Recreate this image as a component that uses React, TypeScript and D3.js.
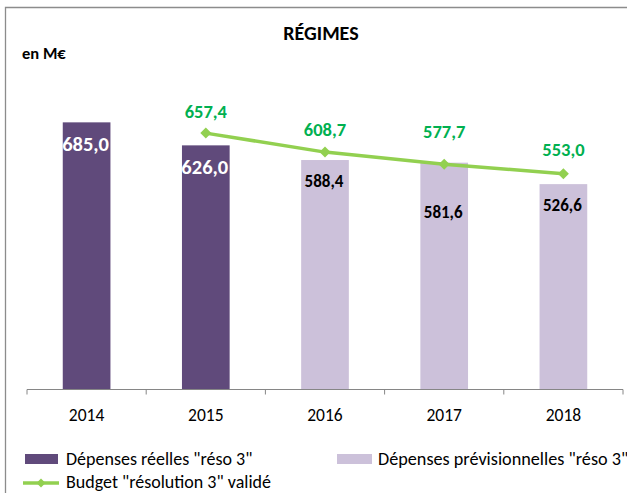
import React from "react";
import * as d3 from "d3";

const years = ["2014", "2015", "2016", "2017", "2018"];
const realSpend: (number | null)[] = [685.0, 626.0, null, null, null];
const forecastSpend: (number | null)[] = [null, null, 588.4, 581.6, 526.6];
const budget: (number | null)[] = [null, 657.4, 608.7, 577.7, 553.0];

const legendLabels = [
  'Dépenses réelles "réso 3"',
  'Dépenses prévisionnelles "réso 3"',
  'Budget "résolution 3" validé',
];

// label placement tweaks (px), like the manual placement in the source
const barLabelDy = [22, 22, 21, 50, 21];
const lineLabelDy = [0, -22, -23, -33, -24];

const W = 627;
const H = 493;
const FONT = "Carlito, Calibri, Lato, sans-serif";
const DARK = "#604A7B";
const LIGHT = "#CCC1DA";
const LINE = "#92D050";
const LABEL_GREEN = "#00B050";

const fmt = (v: number) => v.toFixed(1).replace(".", ",");

export default function App() {
  const x = d3.scaleBand<string>().domain(years).range([27, 623]).padding(0);
  const y = d3.scaleLinear().domain([0, 800]).range([389.5, 77.5]);
  const barW = x.bandwidth() * 0.4;
  const cx = (yr: string) => (x(yr) as number) + x.bandwidth() / 2;

  const budgetPts = years
    .map((yr, i) => ({ yr, v: budget[i], i }))
    .filter((d) => d.v != null) as { yr: string; v: number; i: number }[];

  const line = d3
    .line<{ yr: string; v: number }>()
    .x((d) => cx(d.yr))
    .y((d) => y(d.v));

  const diamond = (px: number, py: number, r: number) =>
    `M${px},${py - r}L${px + r},${py}L${px},${py + r}L${px - r},${py}Z`;

  const bars: { yr: string; v: number; color: string; labelColor: string; i: number }[] = [];
  years.forEach((yr, i) => {
    const r = realSpend[i];
    const f = forecastSpend[i];
    if (r != null) bars.push({ yr, v: r, color: DARK, labelColor: "#FFFFFF", i });
    if (f != null) bars.push({ yr, v: f, color: LIGHT, labelColor: "#000000", i });
  });

  const ticks = [...years.map((yr) => x(yr) as number), 623];

  return (
    <svg
      width={W}
      height={H}
      style={{ position: "absolute", left: 0, top: 0, background: "#fff" }}
      fontFamily={FONT}
    >
      <rect x={0} y={0} width={W} height={H} fill="#fff" />
      {/* outer frame */}
      <path d={`M5.5,${H + 2}V7.5H${W + 2}`} fill="none" stroke="#8C8C8C" strokeWidth={1.3} />

      <text x={321} y={33} textAnchor="middle" dominantBaseline="central" fontWeight="bold" fontSize={20}>
        RÉGIMES
      </text>
      <text x={22} y={53} dominantBaseline="central" fontWeight="bold" fontSize={16.5}>
        en M€
      </text>

      {/* bars */}
      {bars.map((b) => (
        <rect
          key={b.yr + b.color}
          x={cx(b.yr) - barW / 2}
          y={y(b.v)}
          width={barW}
          height={y(0) - y(b.v)}
          fill={b.color}
        />
      ))}

      {/* axis */}
      <line x1={27} x2={623} y1={389.5} y2={389.5} stroke="#868686" strokeWidth={1} />
      {ticks.map((t, i) => (
        <line key={i} x1={t} x2={t} y1={389.5} y2={394.5} stroke="#868686" strokeWidth={1} />
      ))}
      {years.map((yr) => (
        <text key={yr} x={cx(yr)} y={415} textAnchor="middle" dominantBaseline="central" fontSize={17.5} fill="#000">
          {yr}
        </text>
      ))}

      {/* bar labels */}
      {bars.map((b) => (
        <text
          key={"l" + b.yr}
          x={cx(b.yr) - 1}
          y={y(b.v) + barLabelDy[b.i]}
          textAnchor="middle"
          dominantBaseline="central"
          fontWeight="bold"
          fontSize={b.labelColor === "#FFFFFF" ? 20.5 : 17}
          fill={b.labelColor}
        >
          {fmt(b.v)}
        </text>
      ))}

      {/* budget line */}
      <path d={line(budgetPts) || ""} fill="none" stroke={LINE} strokeWidth={3.5} strokeLinejoin="round" />
      {budgetPts.map((d) => (
        <path key={"m" + d.yr} d={diamond(cx(d.yr), y(d.v), 5.5)} fill={LINE} />
      ))}
      {budgetPts.map((d) => (
        <text
          key={"t" + d.yr}
          x={cx(d.yr)}
          y={y(d.v) + lineLabelDy[d.i]}
          textAnchor="middle"
          dominantBaseline="central"
          fontWeight="bold"
          fontSize={18.5}
          fill={LABEL_GREEN}
        >
          {fmt(d.v)}
        </text>
      ))}

      {/* legend */}
      <rect x={25} y={454} width={33} height={10} fill={DARK} />
      <text x={66} y={459} dominantBaseline="central" fontSize={18}>
        {legendLabels[0]}
      </text>
      <rect x={337} y={454} width={35} height={10} fill={LIGHT} />
      <text x={378} y={459} dominantBaseline="central" fontSize={18.2}>
        {legendLabels[1]}
      </text>
      <line x1={23} x2={59} y1={483} y2={483} stroke={LINE} strokeWidth={3.5} />
      <path d={diamond(41, 483, 4.5)} fill={LINE} />
      <text x={66} y={482} dominantBaseline="central" fontSize={18}>
        {legendLabels[2]}
      </text>
    </svg>
  );
}
